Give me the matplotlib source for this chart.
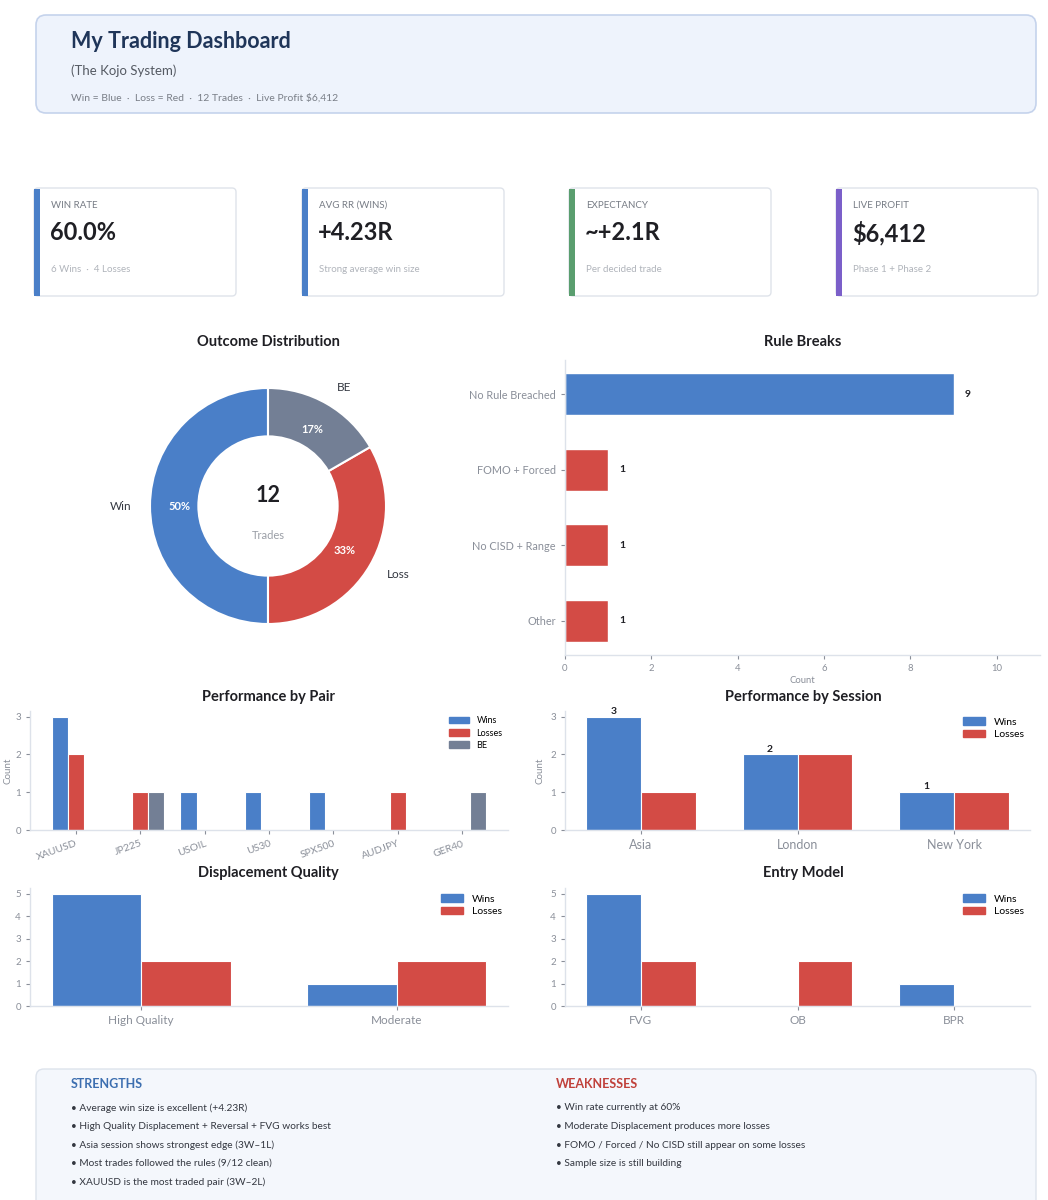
import matplotlib
matplotlib.use("Agg")
import matplotlib.pyplot as plt
from matplotlib.patches import FancyBboxPatch, Rectangle, Patch
import numpy as np

plt.rcParams['font.family'] = ['Lato', 'DejaVu Sans']

# ---------------- data ----------------
kpi_labels = ["WIN RATE", "AVG RR (WINS)", "EXPECTANCY", "LIVE PROFIT"]
kpi_values = ["60.0%", "+4.23R", "~+2.1R", "$6,412"]
kpi_subs = ["6 Wins  ·  4 Losses", "Strong average win size", "Per decided trade", "Phase 1 + Phase 2"]
kpi_colors = ["#4a7fc8", "#4a7fc8", "#5a9e6f", "#7b5fc9"]

outcome_labels = ["Win", "Loss", "BE"]
outcome_counts = [6, 4, 2]

rule_labels = ["No Rule Breached", "FOMO + Forced", "No CISD + Range", "Other"]
rule_counts = [9, 1, 1, 1]

pairs = ["XAUUSD", "JP225", "USOIL", "US30", "SPX500", "AUDJPY", "GER40"]
pair_wins = [3, 0, 1, 1, 1, 0, 0]
pair_losses = [2, 1, 0, 0, 0, 1, 0]
pair_be = [0, 1, 0, 0, 0, 0, 1]

sessions = ["Asia", "London", "New York"]
session_wins = [3, 2, 1]
session_losses = [1, 2, 1]

disp_cats = ["High Quality", "Moderate"]
disp_wins = [5, 1]
disp_losses = [2, 2]

entry_cats = ["FVG", "OB", "BPR"]
entry_wins = [5, 0, 1]
entry_losses = [2, 2, 0]

strengths = [
    "• Average win size is excellent (+4.23R)",
    "• High Quality Displacement + Reversal + FVG works best",
    "• Asia session shows strongest edge (3W–1L)",
    "• Most trades followed the rules (9/12 clean)",
    "• XAUUSD is the most traded pair (3W–2L)",
]
weaknesses = [
    "• Win rate currently at 60%",
    "• Moderate Displacement produces more losses",
    "• FOMO / Forced / No CISD still appear on some losses",
    "• Sample size is still building",
]

BLUE = "#4a7fc8"
RED = "#d34b45"
GRAY = "#737f95"
SPINE = "#dde2ea"
TICK = "#8a8f99"
DARK = "#1f1f24"

W, H = 1048, 1200
fig = plt.figure(figsize=(W / 100, H / 100), dpi=100)
fig.patch.set_facecolor("white")

bg = fig.add_axes([0, 0, 1, 1], zorder=0)
bg.set_xlim(0, W)
bg.set_ylim(H, 0)
bg.axis("off")


def rbox(x, y, w, h, fc, ec, r=8, lw=1.0):
    p = FancyBboxPatch((x, y), w, h, boxstyle=f"round,pad=0,rounding_size={r}",
                       fc=fc, ec=ec, lw=lw)
    bg.add_patch(p)


# header
rbox(36, 15, 1000, 98, "#eef3fc", "#c5d3ec", r=10, lw=1.2)
bg.text(71, 41, "My Trading Dashboard", fontsize=15.5, fontweight="bold",
        color="#1f3559", va="center", ha="left")
bg.text(71, 71, "(The Kojo System)", fontsize=9.5, color="#555a63", va="center")
bg.text(71, 98, "Win = Blue  ·  Loss = Red  ·  12 Trades  ·  Live Profit $6,412",
        fontsize=7.5, color="#7a7f88", va="center")

# KPI cards
card_x = [34, 302, 569, 836]
for cx, lab, val, sub, col in zip(card_x, kpi_labels, kpi_values, kpi_subs, kpi_colors):
    rbox(cx, 188, 202, 108, "white", "#dfe3ea", r=4, lw=1.0)
    bg.add_patch(Rectangle((cx, 188.5), 6, 107, fc=col, ec="none"))
    bg.text(cx + 17, 205, lab, fontsize=7, color="#777c85", va="center")
    bg.text(cx + 16, 233, val, fontsize=17, fontweight="bold", color=DARK, va="center")
    bg.text(cx + 17, 269, sub, fontsize=7, color="#b0b4bb", va="center")

# bottom box
rbox(36, 1069, 1000, 160, "#f4f7fc", "#dde3ec", r=8, lw=1.0)
bg.text(71, 1084, "STRENGTHS", fontsize=9, fontweight="bold", color="#3d6fb0", va="center")
bg.text(556, 1084, "WEAKNESSES", fontsize=9, fontweight="bold", color="#c0413b", va="center")
for i, s in enumerate(strengths):
    bg.text(71, 1108 + i * 18.5, s, fontsize=7.3, color="#333740", va="center")
for i, s in enumerate(weaknesses):
    bg.text(556, 1108 + i * 18.5, s, fontsize=7.3, color="#333740", va="center")

# chart titles
for (tx, ty, t) in [(268, 342, "Outcome Distribution"), (803, 342, "Rule Breaks"),
                    (268, 697, "Performance by Pair"), (803, 697, "Performance by Session"),
                    (268, 873, "Displacement Quality"), (803, 873, "Entry Model")]:
    bg.text(tx, ty, t, fontsize=10.5, fontweight="bold", color=DARK, ha="center", va="center")


def px_axes(left, top, right, bottom):
    return fig.add_axes([left / W, 1 - bottom / H, (right - left) / W, (bottom - top) / H], zorder=2)


def style(ax):
    for s in ["top", "right"]:
        ax.spines[s].set_visible(False)
    for s in ["left", "bottom"]:
        ax.spines[s].set_color(SPINE)
        ax.spines[s].set_linewidth(1.0)
    ax.tick_params(colors=TICK, length=3, width=0.8, labelsize=7)
    ax.set_facecolor("none")


# ---------------- donut ----------------
R = 118
axd = px_axes(268 - 130, 506 - 130, 268 + 130, 506 + 130)
wedges, texts, autotexts = axd.pie(
    outcome_counts, labels=outcome_labels, colors=[BLUE, RED, GRAY], startangle=90,
    counterclock=True, autopct="%1.0f%%", pctdistance=0.75, labeldistance=1.16,
    wedgeprops=dict(width=0.41, edgecolor="white", linewidth=1.5),
    textprops=dict(fontsize=8.5, color="#333740"), radius=1.0)
for t in autotexts:
    t.set_color("white")
    t.set_fontweight("bold")
    t.set_fontsize(8)
axd.set_xlim(-130 / R, 130 / R)
axd.set_ylim(-130 / R, 130 / R)
axd.set_aspect("equal")
axd.text(0, 0.09, str(sum(outcome_counts)), fontsize=15.5, fontweight="bold", color=DARK,
         ha="center", va="center")
axd.text(0, -0.25, "Trades", fontsize=8, color="#9a9ea6", ha="center", va="center")

# ---------------- rule breaks ----------------
axr = px_axes(565, 360, 1040, 655)
style(axr)
ypos = np.arange(len(rule_labels))
rcols = [BLUE] + [RED] * (len(rule_labels) - 1)
axr.barh(ypos, rule_counts, height=0.55, color=rcols, edgecolor="white", linewidth=1)
axr.set_yticks(ypos)
axr.set_yticklabels(rule_labels, fontsize=7.8)
axr.invert_yaxis()
axr.set_xlim(0, 11)
axr.set_xticks([0, 2, 4, 6, 8, 10])
axr.tick_params(axis="x", labelsize=6.8)
axr.set_xlabel("Count", fontsize=6.8, color=TICK, labelpad=2)
for y, v in zip(ypos, rule_counts):
    axr.text(v + 0.25, y, str(v), fontsize=7.5, fontweight="bold", color=DARK, va="center")


def legend(ax, handles, fs):
    ax.legend(handles=handles, loc="upper right", frameon=False, fontsize=fs,
              handlelength=2.2, handleheight=0.7, labelspacing=0.35, borderaxespad=0.2)


# ---------------- performance by pair ----------------
axp = px_axes(30, 711, 508, 830)
style(axp)
xp = np.arange(len(pairs))
w = 0.25
axp.bar(xp - w, pair_wins, w, color=BLUE, edgecolor="white", linewidth=0.8, label="Wins")
axp.bar(xp, pair_losses, w, color=RED, edgecolor="white", linewidth=0.8, label="Losses")
axp.bar(xp + w, pair_be, w, color=GRAY, edgecolor="white", linewidth=0.8, label="BE")
axp.set_xticks(xp)
axp.set_xticklabels(pairs, rotation=20, ha="right", fontsize=7.5, rotation_mode="anchor")
axp.set_yticks([0, 1, 2, 3])
axp.set_ylim(0, 3.15)
axp.set_ylabel("Count", fontsize=7, color=TICK, labelpad=2)
legend(axp, [Patch(color=BLUE, label="Wins"), Patch(color=RED, label="Losses"),
             Patch(color=GRAY, label="BE")], 6.5)

# ---------------- performance by session ----------------
axs = px_axes(565, 711, 1030, 830)
style(axs)
xs = np.arange(len(sessions))
w2 = 0.35
axs.bar(xs - w2 / 2, session_wins, w2, color=BLUE, edgecolor="white", linewidth=0.8)
axs.bar(xs + w2 / 2, session_losses, w2, color=RED, edgecolor="white", linewidth=0.8)
axs.set_xticks(xs)
axs.set_xticklabels(sessions, fontsize=9)
axs.set_yticks([0, 1, 2, 3])
axs.set_ylim(0, 3.15)
axs.set_ylabel("Count", fontsize=7, color=TICK, labelpad=4)
for x, v in zip(xs, session_wins):
    axs.text(x - w2 / 2, v + 0.02, str(v), fontsize=7.5, fontweight="bold", color=DARK,
             ha="center", va="bottom")
legend(axs, [Patch(color=BLUE, label="Wins"), Patch(color=RED, label="Losses")], 7.5)

# ---------------- displacement quality ----------------
axq = px_axes(30, 888, 508, 1006)
style(axq)
xq = np.arange(len(disp_cats))
axq.bar(xq - w2 / 2, disp_wins, w2, color=BLUE, edgecolor="white", linewidth=0.8)
axq.bar(xq + w2 / 2, disp_losses, w2, color=RED, edgecolor="white", linewidth=0.8)
axq.set_xticks(xq)
axq.set_xticklabels(disp_cats, fontsize=8.5)
axq.set_yticks(range(6))
axq.set_ylim(0, 5.25)
legend(axq, [Patch(color=BLUE, label="Wins"), Patch(color=RED, label="Losses")], 7.5)

# ---------------- entry model ----------------
axe = px_axes(565, 888, 1030, 1006)
style(axe)
xe = np.arange(len(entry_cats))
axe.bar(xe - w2 / 2, entry_wins, w2, color=BLUE, edgecolor="white", linewidth=0.8)
axe.bar(xe + w2 / 2, entry_losses, w2, color=RED, edgecolor="white", linewidth=0.8)
axe.set_xticks(xe)
axe.set_xticklabels(entry_cats, fontsize=8.5)
axe.set_yticks(range(6))
axe.set_ylim(0, 5.25)
legend(axe, [Patch(color=BLUE, label="Wins"), Patch(color=RED, label="Losses")], 7.5)

fig.savefig("out.png", dpi=100, facecolor="white")
